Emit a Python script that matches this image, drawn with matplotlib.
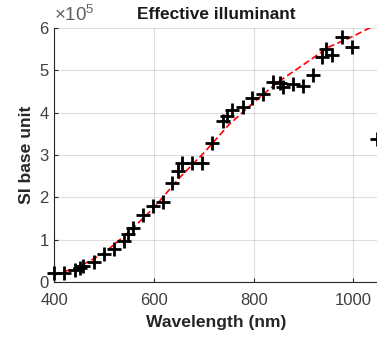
import numpy as np
import matplotlib.pyplot as plt
from matplotlib.ticker import FuncFormatter

# measured samples (wavelength in nm, value in SI base unit)
wavelength = [400, 420, 441, 451, 458, 480, 500, 520, 540, 548, 558, 578, 598,
              618, 637, 648, 657, 677, 697, 716, 738, 746, 756, 778, 797, 818,
              839, 852, 859, 878, 898, 918, 937, 946, 957, 977, 997, 1047]
measured = [0.226, 0.21, 0.29, 0.33, 0.38, 0.47, 0.66, 0.785, 0.97, 1.15, 1.27,
            1.59, 1.80, 1.90, 2.33, 2.62, 2.80, 2.82, 2.80, 3.28, 3.79, 3.92,
            4.07, 4.14, 4.34, 4.43, 4.73, 4.69, 4.61, 4.67, 4.63, 4.89, 5.32,
            5.49, 5.36, 5.79, 5.54, 3.37]
measured = [v * 1e5 for v in measured]

# fitted curve
fit_wl = [400, 450, 500, 550, 600, 650, 700, 750, 800, 850, 900, 950, 1000, 1050]
fit_val = [0.17, 0.37, 0.69, 1.19, 1.76, 2.45, 3.05, 3.71, 4.24, 4.73, 5.13,
           5.54, 5.8, 6.1]
fit_val = [v * 1e5 for v in fit_val]

plt.rcParams['font.family'] = ['Liberation Sans', 'DejaVu Sans']
plt.rcParams['mathtext.fontset'] = 'custom'
plt.rcParams['mathtext.rm'] = 'Liberation Sans'

fig = plt.figure(figsize=(3.77, 3.37), dpi=100)
ax = fig.add_axes([54.3 / 377, 1 - 282.3 / 337, (378.3 - 54.3) / 377, (282.3 - 27.7) / 337])

ax.plot(fit_wl, fit_val, color='red', linestyle=(0, (4, 2)), linewidth=1.2, zorder=2)
ax.plot(wavelength, measured, linestyle='none', marker='+', color='black',
        markersize=9.5, markeredgewidth=2, zorder=3, clip_on=False)

ax.set_xlim(400, 1050)
ax.set_ylim(0, 6e5)
ax.set_xticks([400, 600, 800, 1000])
ax.set_yticks(np.arange(0, 7e5, 1e5))
ax.yaxis.set_major_formatter(FuncFormatter(lambda v, p: f"{v / 1e5:g}"))

ax.grid(True, color='#262626', alpha=0.15, linewidth=0.8)
ax.set_axisbelow(True)
for s in ['top', 'right']:
    ax.spines[s].set_visible(False)
for s in ['left', 'bottom']:
    ax.spines[s].set_color('#262626')
    ax.spines[s].set_linewidth(0.8)
ax.tick_params(direction='in', length=3, width=0.8, color='#262626',
               labelcolor='#404040', labelsize=12)
ax.tick_params(axis='x', pad=8)
ax.tick_params(axis='y', pad=4)

ax.set_title('Effective illuminant', fontsize=12.4, fontweight='bold', pad=6,
             color='#1a1a1a')
ax.set_xlabel('Wavelength (nm)', fontsize=12.6, fontweight='bold', labelpad=5,
              color='#262626')
ax.set_ylabel('SI base unit', fontsize=12.6, fontweight='bold', labelpad=4,
              color='#262626')
ax.text(0.0, 1.01, r'$\times\mathregular{10^5}$', transform=ax.transAxes,
        fontsize=13.5, color='#606060', ha='left', va='bottom')

fig.savefig('out.png', dpi=100)
